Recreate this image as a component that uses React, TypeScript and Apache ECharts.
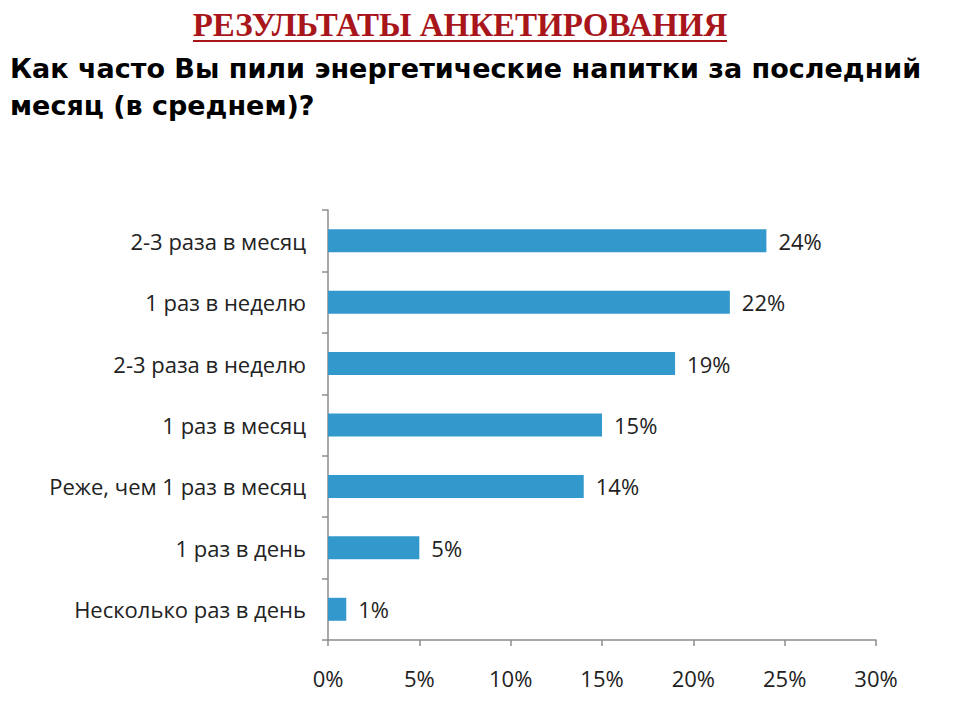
import React, { useEffect, useRef } from "react";
import * as echarts from "echarts";

const categories = [
  "2-3 раза в месяц",
  "1 раз в неделю",
  "2-3 раза в неделю",
  "1 раз в месяц",
  "Реже, чем 1 раз в месяц",
  "1 раз в день",
  "Несколько раз в день",
];
const values = [24, 22, 19, 15, 14, 5, 1];
const xTicks = [0, 5, 10, 15, 20, 25, 30];

const titleText = "РЕЗУЛЬТАТЫ АНКЕТИРОВАНИЯ";
const questionLines = [
  "Как часто Вы пили энергетические напитки за последний",
  "месяц (в среднем)?",
];

export default function App() {
  const ref = useRef<HTMLDivElement>(null);
  useEffect(() => {
    if (!ref.current) return;
    const chart = echarts.init(ref.current, undefined, { renderer: "svg" });
    const labelFont = "'Open Sans', 'Noto Sans', sans-serif";
    chart.setOption({
      animation: false,
      backgroundColor: "#ffffff",
      grid: { left: 328, right: 84, top: 210, bottom: 80, containLabel: false },
      xAxis: {
        type: "value",
        min: xTicks[0],
        max: xTicks[xTicks.length - 1],
        interval: 5,
        axisLine: { show: true, lineStyle: { color: "#8c8c8c", width: 1.5 } },
        axisTick: { show: true, length: 6, lineStyle: { color: "#8c8c8c", width: 1.5 } },
        splitLine: { show: false },
        axisLabel: {
          formatter: (v: number) => v + "%",
          color: "#222",
          fontSize: 22,
          fontFamily: labelFont,
          margin: 27,
        },
      },
      yAxis: {
        type: "category",
        data: categories,
        inverse: true,
        axisLine: { show: true, lineStyle: { color: "#8c8c8c", width: 1.5 } },
        axisTick: { show: true, length: 6, lineStyle: { color: "#8c8c8c", width: 1.5 } },
        axisLabel: {
          color: "#222",
          fontSize: 22,
          fontFamily: labelFont,
          margin: 22,
        },
      },
      series: [
        {
          type: "bar",
          data: values,
          barWidth: 23,
          itemStyle: { color: "#3398cc" },
          label: {
            show: true,
            position: "right",
            distance: 12,
            formatter: (p: any) => p.value + "%",
            color: "#222",
            fontSize: 22,
            fontFamily: labelFont,
          },
        },
      ],
      graphic: [
        {
          type: "text",
          x: 460,
          y: 25,
          style: {
            text: titleText,
            fill: "#a8161b",
            font: "bold 33px 'Liberation Serif', 'DejaVu Serif', serif",
            textAlign: "center",
            textVerticalAlign: "middle",
          },
        },
        {
          type: "line",
          shape: { x1: 193, y1: 41, x2: 727, y2: 41 },
          style: { stroke: "#a8161b", lineWidth: 2 },
        },
        {
          type: "text",
          x: 10,
          y: 68,
          style: {
            text: questionLines[0],
            fill: "#000",
            font: "bold 27px 'DejaVu Sans', sans-serif",
            textAlign: "left",
            textVerticalAlign: "middle",
          },
        },
        {
          type: "text",
          x: 10,
          y: 105,
          style: {
            text: questionLines[1],
            fill: "#000",
            font: "bold 27px 'DejaVu Sans', sans-serif",
            textAlign: "left",
            textVerticalAlign: "middle",
          },
        },
      ],
    });
    return () => chart.dispose();
  }, []);
  return <div ref={ref} style={{ width: 960, height: 720, position: "absolute", left: 0, top: 0 }} />;
}
